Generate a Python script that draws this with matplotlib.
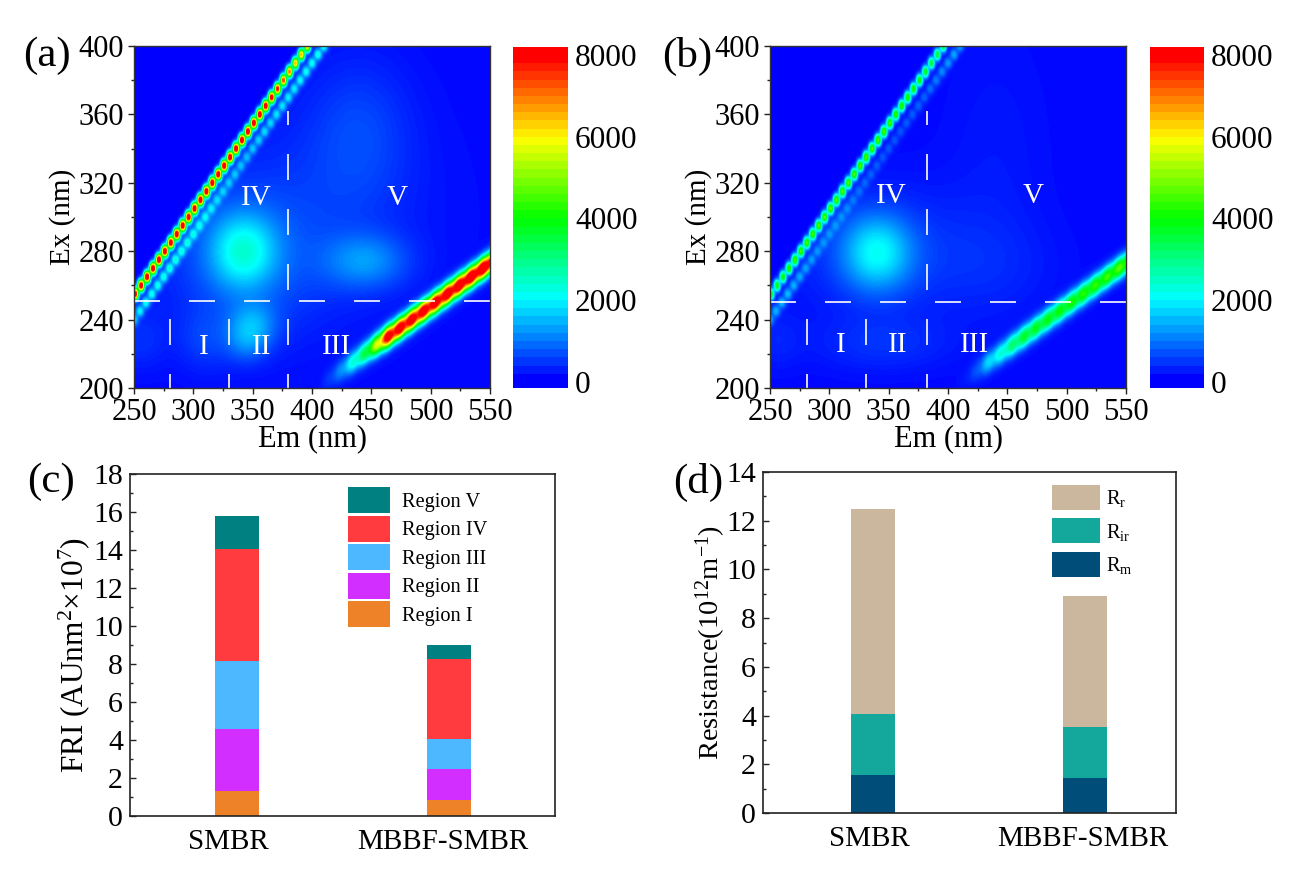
import numpy as np
import matplotlib
matplotlib.use("Agg")
import matplotlib.pyplot as plt
from matplotlib.colors import LinearSegmentedColormap

plt.rcParams['font.family'] = ['Liberation Serif', 'DejaVu Serif']
plt.rcParams['mathtext.fontset'] = 'custom'
plt.rcParams['mathtext.rm'] = 'Liberation Serif'
plt.rcParams['mathtext.default'] = 'regular'

W, H = 1299, 871
FS = 22

# ---- EEM estimates ----
em_axis = np.arange(250, 550.5, 0.5)
ex_axis = np.arange(200, 400.5, 0.5)

# broad fluorescence peaks: em centre, ex centre, height, em spread, ex spread
peaks_a = [(342, 280, 1600, 19, 15), (350, 237, 950, 14, 9), (345, 226, 600, 12, 8),
           (310, 228, 350, 16, 12), (445, 274, 950, 24, 11), (440, 350, 430, 30, 30),
           (400, 300, 300, 70, 45), (340, 275, 550, 45, 30), (255, 228, 300, 15, 12)]
peaks_b = [(340, 279, 1600, 20, 15), (345, 280, 420, 55, 26), (345, 226, 320, 40, 11),
           (440, 330, 130, 30, 55), (440, 270, 150, 40, 20), (255, 228, 200, 15, 12)]

# first-order bead chain: excitation of each bead, then bead heights
ridge_ex = [255, 260, 265, 270, 275, 280, 285, 290, 295, 300, 305, 310, 315, 320, 325,
            330, 335, 340, 345, 350, 355, 360, 365, 370, 375, 380, 385, 390, 395, 400]
ridge_a = [8500, 8800, 9000, 9000, 9000, 9000, 9000, 9000, 9000, 9000, 9000, 9000, 9000, 9000, 9000,
           9000, 9000, 9000, 9000, 9000, 9000, 9000, 8800, 8500, 8000, 7500, 7000, 6500, 6500, 6500]
ridge_b = [3500, 3800, 4000, 4200, 4400, 4500, 4500, 4500, 4600, 4600, 4600, 4600, 4600, 4600, 4600,
           4600, 4600, 4600, 4600, 4600, 4500, 4400, 4300, 4200, 4100, 4000, 3800, 3600, 3600, 3600]

# companion bead chain just below the first one
side_ex = [240, 245, 250, 255, 260, 265, 270, 275, 280, 285, 290, 295, 300, 305, 310, 315, 320,
           325, 330, 335, 340, 345, 350, 355, 360, 365, 370, 375, 380, 385, 390, 395, 400]
side_a = [1500, 1700, 1900, 1900, 1900, 1900, 1900, 1900, 1800, 1700, 1600, 1500, 1400, 1300, 1200, 1200, 1200,
          1200, 1200, 1200, 1300, 1400, 1500, 1500, 1600, 1600, 1700, 1700, 1800, 1900, 1900, 2000, 2000]
side_b = [1100, 1200, 1300, 1300, 1200, 1100, 1000, 900, 800, 750, 700, 700, 650, 650, 600, 600, 600,
          600, 600, 600, 600, 600, 600, 650, 650, 700, 700, 800, 900, 1000, 1100, 1200, 1200]

# second-order lobes: excitation of each lobe, then lobe heights
band_ex = [205, 210, 215, 220, 225, 230, 235, 240, 245, 250, 255, 260, 265, 270, 275, 280]
band_a = [300, 900, 2000, 3000, 5000, 8000, 8000, 8000, 8000, 8100, 8200, 8300, 8400, 8500, 8500, 8500]
band_b = [100, 500, 1500, 2000, 2800, 3300, 3400, 3500, 3600, 3700, 3800, 3900, 4000, 4200, 4400, 4400]

base_level = 60
cbar_ticks = [0, 2000, 4000, 6000, 8000]

# ---- bars ----
groups = ['SMBR', 'MBBF-SMBR']
fri_labels = ['Region I', 'Region II', 'Region III', 'Region IV', 'Region V']
fri_smbr = [1.3, 3.3, 3.55, 5.9, 1.75]
fri_mbbf = [0.85, 1.65, 1.55, 4.2, 0.75]
fri_colors = ['#EE8228', '#D22EFF', '#4DB8FF', '#FF3B3F', '#008080']

res_labels = ['R$_{m}$', 'R$_{ir}$', 'R$_{r}$']
res_smbr = [1.55, 2.52, 8.43]
res_mbbf = [1.42, 2.13, 5.37]
res_colors = ['#004D7A', '#14A79B', '#CBB79E']

stops = [(0, 0, 1), (0, 1, 1), (0, 1, 0), (1, 1, 0), (1, 0, 0)]
cmap_fine = LinearSegmentedColormap.from_list('eem', stops, N=160)
cmap_bar = LinearSegmentedColormap.from_list('eembar', stops, N=40)
levels = np.arange(0, 8050, 50)
bar_edges = np.arange(-200, 8400, 200)


def axpx(x0, y0, x1, y1):
    return fig.add_axes([x0 / W, 1 - y1 / H, (x1 - x0) / W, (y1 - y0) / H])


def bump(em, ex, c_em, c_ex, h, s_em, s_ex):
    return h * np.exp(-0.5 * (((em - c_em) / s_em) ** 2 + ((ex - c_ex) / s_ex) ** 2))


def field(peaks, ridge, side, band):
    em, ex = np.meshgrid(em_axis, ex_axis)
    z = np.full(em.shape, float(base_level))
    for p in peaks:
        z += bump(em, ex, *p)
    z *= np.clip((em - ex + 2) / 6, 0, 1)
    for e, h in zip(ridge_ex, ridge):
        z += bump(em, ex, e - 4, e, h, 1.75, 2.3)
    for e, h in zip(side_ex, side):
        z += bump(em, ex, e + 10, e, h, 2.2, 2.2)
    for e, h in zip(band_ex, band):
        z += h * np.exp(-0.5 * (((em - 2 * (e + 2)) / 4.1) ** 2 + ((ex - em / 2 + 2) / 4.2) ** 2))
    return em, ex, z


def eem(box, cbox, peaks, ridge, side, band, hline, vlines, lab_pos, letter, letter_xy):
    ax = axpx(*box)
    em, ex, z = field(peaks, ridge, side, band)
    ax.contourf(em, ex, z, levels=levels, cmap=cmap_fine, extend='both')
    ax.set_xlim(250, 550)
    ax.set_ylim(200, 400)
    ax.set_xticks(range(250, 551, 50))
    ax.set_xticks(range(275, 550, 50), minor=True)
    ax.set_yticks(range(200, 401, 40))
    ax.set_yticks(range(220, 400, 40), minor=True)
    ax.tick_params(labelsize=FS, length=4, width=1, pad=3, color='#222222')
    ax.tick_params(which='minor', length=2.5, width=1, color='#222222')
    for s in ax.spines.values():
        s.set_linewidth(1)
        s.set_color('#333333')
    ax.set_xlabel('Em (nm)', fontsize=FS, labelpad=-2)
    ax.set_ylabel('Ex (nm)', fontsize=FS - 1, labelpad=2)
    ax.plot([250, 550], [hline, hline], color='white', lw=1.2, ls=(0, (15.6, 17.4)))
    for v, top in vlines:
        ax.plot([v, v], [200, top], color='white', lw=1.2, ls=(7.2, (15.6, 17.4)))
    for t, (x, y) in lab_pos.items():
        ax.text(x, y, t, color='white', fontsize=FS - 1, ha='center', va='center')
    fig.text(letter_xy[0] / W, 1 - letter_xy[1] / H, letter, fontsize=31, ha='left', va='center')

    cax = axpx(*cbox)
    centres = (bar_edges[:-1] + bar_edges[1:]).reshape(-1, 1) / 2
    cax.pcolormesh([0, 1], bar_edges, centres, cmap=cmap_bar, vmin=0, vmax=8000)
    cax.set_ylim(-150, 8220)
    cax.set_xticks([])
    cax.yaxis.tick_right()
    cax.set_yticks(cbar_ticks)
    cax.tick_params(axis='y', length=0, labelsize=FS + 0.5, pad=5)
    for s in cax.spines.values():
        s.set_visible(False)
    return ax


def stacks(box, vals_a, vals_b, labels, colors, ymax, major, ylabel, ylab_fs, ylab_y, ylab_pad, xlim, label_x,
           letter, letter_xy, leg_box, leg_spacing, leg_pad):
    ax = axpx(*box)
    bottoms = [0.0, 0.0]
    for va, vb, lab, col in zip(vals_a, vals_b, labels, colors):
        ax.bar([0, 1], [va, vb], 0.21, bottom=bottoms, color=col, label=lab)
        bottoms = [bottoms[0] + va, bottoms[1] + vb]
    ax.set_xlim(*xlim)
    ax.set_ylim(0, ymax)
    ax.set_xticks(label_x)
    ax.set_xticklabels(groups)
    ax.set_yticks(np.arange(0, ymax + 1, major))
    ax.set_yticks(np.arange(major / 2, ymax, major), minor=True)
    ax.tick_params(axis='x', length=0, labelsize=21, pad=9)
    ax.tick_params(axis='y', direction='in', length=4, width=1, labelsize=21.5, pad=5, color='#222222')
    ax.tick_params(axis='y', which='minor', direction='in', length=2.5, width=1, color='#222222')
    for s in ax.spines.values():
        s.set_linewidth(1.2)
        s.set_color('#222222')
    ax.set_ylabel(ylabel, fontsize=ylab_fs, labelpad=ylab_pad, y=ylab_y)
    fig.text(letter_xy[0] / W, 1 - letter_xy[1] / H, letter, fontsize=31, ha='left', va='center')
    h, l = ax.get_legend_handles_labels()
    fs = 14.7
    px = fs * 100 / 72
    lx, ly, lw, lh = leg_box
    hh = (lh / px - 0.245) / 0.65
    ax.legend(h[::-1], l[::-1], loc='upper left', frameon=False, fontsize=fs,
              bbox_to_anchor=((lx - box[0]) / (box[2] - box[0]), 1 - (ly - box[1]) / (box[3] - box[1])),
              borderaxespad=0, borderpad=0, handlelength=lw / px, handleheight=hh,
              labelspacing=(leg_spacing - lh) / px, handletextpad=leg_pad / px)
    return ax


fig = plt.figure(figsize=(W / 100, H / 100), dpi=100)

eem((134, 46, 490, 388), (513, 46, 568, 388), peaks_a, ridge_a, side_a, band_a, 251,
    [(280, 250), (330, 250), (380, 362)],
    {'I': (309, 224), 'II': (358, 224), 'III': (421, 224), 'IV': (353, 311), 'V': (472, 311)},
    '(a)', (23, 56))
eem((770, 46, 1126, 388), (1150, 46, 1204, 388), peaks_b, ridge_b, side_b, band_b, 250,
    [(281, 249), (331, 249), (382, 362)],
    {'I': (310, 225), 'II': (358, 225), 'III': (422, 225), 'IV': (352, 312), 'V': (472, 312)},
    '(b)', (662, 56))
stacks((130, 474, 555, 816), fri_smbr, fri_mbbf, fri_labels, fri_colors, 18, 2,
       'FRI (AUnm$^{2}$×10$^{7}$)', 22.5, 0.47, 1, (-0.505, 1.5), [-0.04, 0.97], '(c)', (27, 482),
       (348, 487, 42, 26), 28.5, 12)
stacks((763, 472, 1176, 813), res_smbr, res_mbbf, res_labels, res_colors, 14, 2,
       'Resistance(10$^{12}$m$^{-1}$)', 20.5, 0.5, -1, (-0.52, 1.43), [-0.02, 0.99], '(d)', (673, 482),
       (1052, 485, 48, 25), 33.5, 6)

fig.savefig('out.png', dpi=100)
